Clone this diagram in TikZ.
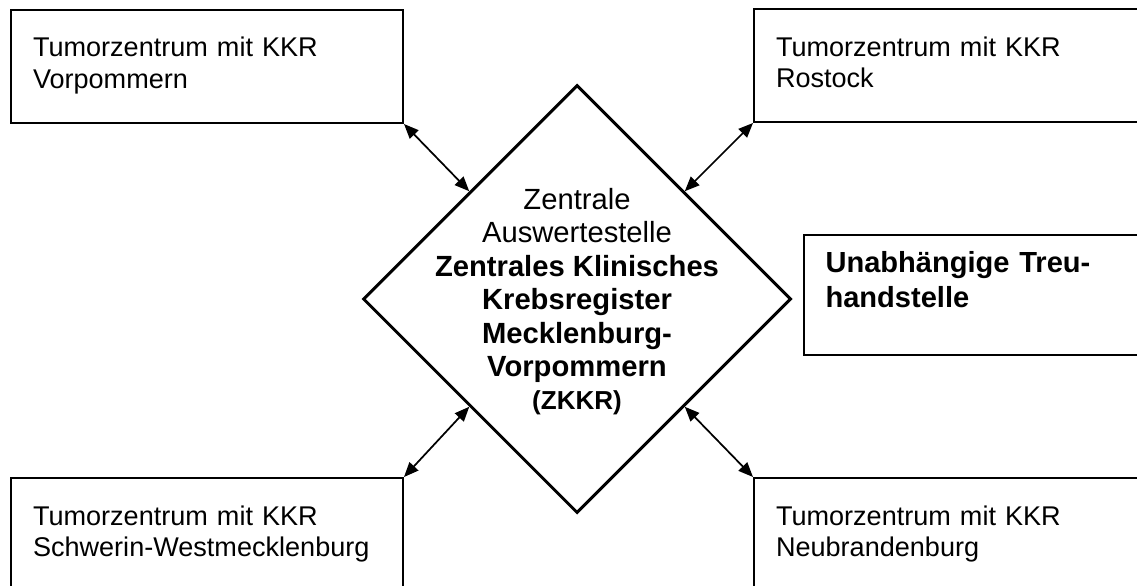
\documentclass[tikz,border=0pt]{standalone}
\usepackage{fontspec}
\setmainfont{Liberation Sans}
\usetikzlibrary{shapes.geometric,arrows.meta,positioning}

\begin{document}
\begin{tikzpicture}[x=0.75pt,y=-0.75pt,
    box/.style={draw,line width=1.5pt,anchor=north west,align=left,
      text width=261pt,inner xsep=16.5pt,inner ysep=0pt,
      text height=35.25pt,text depth=49.5pt,
      font=\fontsize{20.3pt}{23.6pt}\selectfont},
    link/.style={<->,>={Triangle[length=11pt,width=9pt]},line width=1.3pt}]
  \clip (0,0) rectangle (1137,585);
  \node[diamond,draw,line width=2.25pt,minimum width=321pt,minimum height=321pt,inner sep=0pt] (zkkr) at (577,299) {};
  \node[align=center,font=\fontsize{21.9pt}{25.1pt}\selectfont] (zkkr_text) at ([yshift=-2pt]zkkr.center)
    {Zentrale\\Auswertestelle\\\textbf{Zentrales Klinisches}\\\textbf{Krebsregister}\\
     \textbf{Mecklenburg-}\\\textbf{Vorpommern}\\{\bfseries\fontsize{19.5pt}{23.25pt}\selectfont (ZKKR)}};
  \node[box] (tz_vp) at (10,9)    {Tumorzentrum mit KKR\\Vorpommern};
  \node[box] (tz_hro) at (753,8)  {Tumorzentrum mit KKR\\Rostock};
  \node[box] (tz_sn) at (10,477)  {Tumorzentrum mit KKR\\Schwerin-Westmecklenburg};
  \node[box] (tz_nb) at (753,477) {Tumorzentrum mit KKR\\Neubrandenburg};
  \node[box,text width=218.25pt,text height=27.75pt,text depth=62.25pt,
    font=\bfseries\fontsize{21.8pt}{26.25pt}\selectfont,
    right=7.5pt of zkkr,yshift=3pt] (treu) {Unabhängige Treu-\\handstelle};
  \path[link]
    % upper edges
    (tz_vp.south east) edge (zkkr.north west)
    (tz_hro.south west) edge (zkkr.north east)
    % lower edges
    (tz_sn.north east) edge (zkkr.south west)
    (tz_nb.north west) edge (zkkr.south east);
\end{tikzpicture}
\end{document}
